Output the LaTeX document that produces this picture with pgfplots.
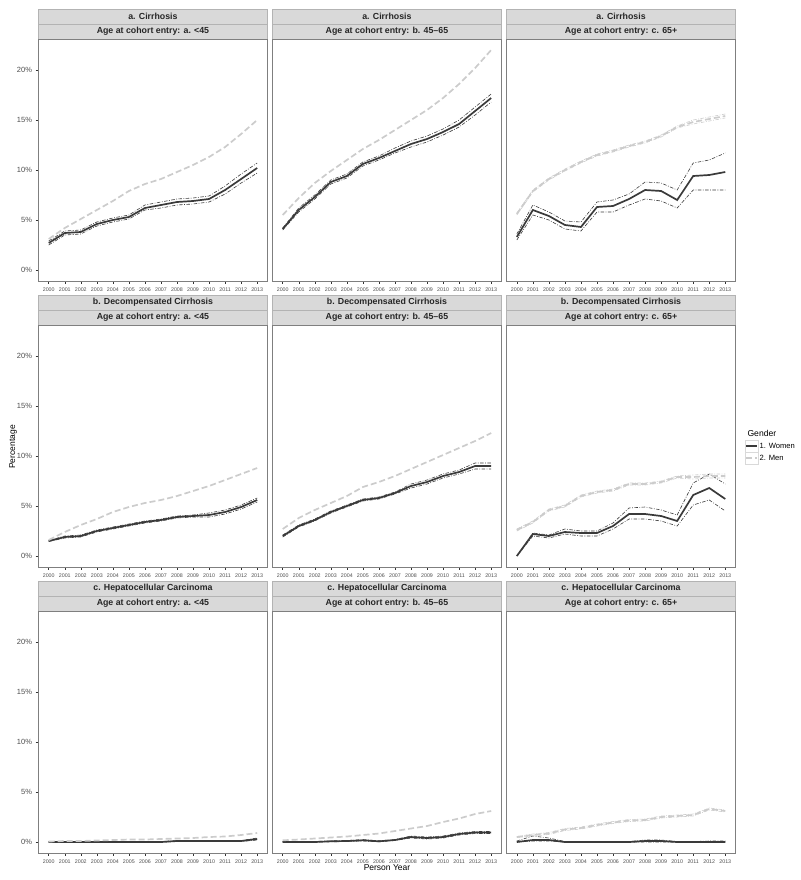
\documentclass[border=0pt]{standalone}
\usepackage{pgfplots}
\pgfplotsset{compat=1.18}
\usepackage{pgfplotstable}
\usepackage{fontspec}
\setmainfont{Liberation Sans}

\definecolor{ggborder}{HTML}{7F7F7F}
\definecolor{ggstrip}{HTML}{D9D9D9}
\definecolor{ggstripline}{HTML}{B3B3B3}
\definecolor{ggtick}{HTML}{333333}
\definecolor{ggtext}{HTML}{4D4D4D}
\definecolor{women}{HTML}{3A3A3A}
\definecolor{men}{HTML}{CCCCCC}

% year, women (est, lower, upper), men (est, lower, upper)
\pgfplotstableread{
year w wlo whi m mlo mhi
2000 2.7 2.5 2.9 3.1 3.1 3.1
2001 3.7 3.5 3.9 4.2 4.2 4.2
2002 3.8 3.6 4.0 5.1 5.1 5.1
2003 4.6 4.4 4.8 6.0 6.0 6.0
2004 5.0 4.8 5.2 6.9 6.9 6.9
2005 5.3 5.1 5.5 7.9 7.9 7.9
2006 6.2 6.0 6.5 8.6 8.6 8.6
2007 6.5 6.2 6.8 9.1 9.1 9.1
2008 6.8 6.5 7.1 9.8 9.8 9.8
2009 6.9 6.6 7.2 10.5 10.5 10.5
2010 7.1 6.8 7.4 11.3 11.3 11.3
2011 8.0 7.6 8.4 12.3 12.3 12.3
2012 9.1 8.7 9.6 13.6 13.6 13.6
2013 10.2 9.7 10.7 15.0 15.0 15.0
}\cirA
\pgfplotstableread{
year w wlo whi m mlo mhi
2000 4.1 4.0 4.2 5.5 5.5 5.5
2001 6.0 5.8 6.2 7.2 7.2 7.2
2002 7.3 7.1 7.5 8.7 8.7 8.7
2003 8.8 8.6 9.0 9.9 9.9 9.9
2004 9.4 9.2 9.6 11.0 11.0 11.0
2005 10.6 10.4 10.8 12.1 12.1 12.1
2006 11.2 11.0 11.4 13.0 13.0 13.0
2007 11.9 11.7 12.2 14.0 14.0 14.0
2008 12.6 12.3 12.9 15.0 15.0 15.0
2009 13.1 12.8 13.4 16.0 16.0 16.0
2010 13.8 13.5 14.1 17.2 17.2 17.2
2011 14.6 14.3 15.0 18.6 18.6 18.6
2012 15.9 15.5 16.3 20.2 20.2 20.2
2013 17.2 16.8 17.6 22.0 22.0 22.0
}\cirB
\pgfplotstableread{
year w wlo whi m mlo mhi
2000 3.3 3.0 3.6 5.6 5.5 5.7
2001 6.0 5.5 6.5 7.9 7.8 8.0
2002 5.4 5.0 5.8 9.1 9.0 9.2
2003 4.5 4.1 4.9 10.0 9.9 10.1
2004 4.3 3.9 4.8 10.8 10.7 10.9
2005 6.3 5.8 6.8 11.5 11.4 11.6
2006 6.4 5.8 7.0 11.9 11.8 12.0
2007 7.1 6.5 7.6 12.4 12.3 12.5
2008 8.0 7.1 8.8 12.8 12.7 12.9
2009 7.9 6.9 8.7 13.4 13.3 13.5
2010 7.0 6.2 8.0 14.3 14.2 14.4
2011 9.4 8.0 10.7 14.8 14.6 15.0
2012 9.5 8.0 11.0 15.1 14.9 15.3
2013 9.8 8.0 11.7 15.4 15.2 15.6
}\cirC
\pgfplotstableread{
year w wlo whi m mlo mhi
2000 1.5 1.45 1.55 1.6 1.6 1.6
2001 1.9 1.8 2.0 2.4 2.4 2.4
2002 2.0 1.9 2.1 3.1 3.1 3.1
2003 2.5 2.4 2.6 3.7 3.7 3.7
2004 2.8 2.7 2.9 4.4 4.4 4.4
2005 3.1 3.0 3.2 4.9 4.9 4.9
2006 3.4 3.3 3.5 5.3 5.3 5.3
2007 3.6 3.5 3.7 5.6 5.6 5.6
2008 3.9 3.8 4.0 6.0 6.0 6.0
2009 4.0 3.9 4.1 6.5 6.5 6.5
2010 4.1 3.9 4.3 7.0 7.0 7.0
2011 4.4 4.2 4.6 7.6 7.6 7.6
2012 4.9 4.7 5.1 8.2 8.2 8.2
2013 5.6 5.4 5.8 8.8 8.8 8.8
}\decA
\pgfplotstableread{
year w wlo whi m mlo mhi
2000 2.0 1.9 2.1 2.7 2.7 2.7
2001 3.0 2.9 3.1 3.8 3.8 3.8
2002 3.6 3.5 3.7 4.6 4.6 4.6
2003 4.4 4.3 4.5 5.3 5.3 5.3
2004 5.0 4.9 5.1 6.0 6.0 6.0
2005 5.6 5.5 5.7 6.9 6.9 6.9
2006 5.8 5.7 5.9 7.4 7.4 7.4
2007 6.3 6.2 6.4 8.0 8.0 8.0
2008 7.0 6.8 7.2 8.7 8.7 8.7
2009 7.4 7.2 7.6 9.4 9.4 9.4
2010 8.0 7.8 8.2 10.1 10.1 10.1
2011 8.4 8.2 8.6 10.8 10.8 10.8
2012 9.0 8.7 9.3 11.5 11.5 11.5
2013 9.0 8.7 9.3 12.3 12.3 12.3
}\decB
\pgfplotstableread{
year w wlo whi m mlo mhi
2000 0.0 0.0 0.0 2.6 2.5 2.7
2001 2.2 2.0 2.3 3.4 3.3 3.5
2002 2.0 1.8 2.1 4.6 4.5 4.7
2003 2.4 2.2 2.7 5.0 4.9 5.1
2004 2.3 2.0 2.5 6.0 5.9 6.1
2005 2.3 2.0 2.5 6.4 6.3 6.5
2006 3.0 2.7 3.3 6.6 6.5 6.7
2007 4.2 3.7 4.8 7.2 7.1 7.3
2008 4.2 3.7 4.9 7.2 7.1 7.3
2009 4.0 3.5 4.6 7.4 7.3 7.5
2010 3.5 3.0 4.1 7.9 7.8 8.0
2011 6.1 5.1 7.3 7.9 7.7 8.1
2012 6.8 5.6 8.2 8.0 7.8 8.2
2013 5.7 4.5 7.2 8.0 7.8 8.2
}\decC
\pgfplotstableread{
year w wlo whi m mlo mhi
2000 0.0 0.0 0.0 0.05 0.05 0.05
2001 0.0 0.0 0.05 0.1 0.1 0.1
2002 0.0 0.0 0.05 0.1 0.1 0.1
2003 0.0 0.0 0.05 0.15 0.15 0.15
2004 0.0 0.0 0.05 0.2 0.2 0.2
2005 0.0 0.0 0.05 0.25 0.25 0.25
2006 0.0 0.0 0.05 0.25 0.25 0.25
2007 0.0 0.0 0.05 0.3 0.3 0.3
2008 0.1 0.05 0.15 0.35 0.35 0.35
2009 0.1 0.05 0.15 0.4 0.4 0.4
2010 0.1 0.05 0.15 0.5 0.5 0.5
2011 0.1 0.05 0.15 0.55 0.55 0.55
2012 0.1 0.05 0.15 0.7 0.7 0.7
2013 0.3 0.2 0.4 0.9 0.9 0.9
}\hccA
\pgfplotstableread{
year w wlo whi m mlo mhi
2000 0.0 0.0 0.05 0.17 0.17 0.17
2001 0.0 0.0 0.05 0.25 0.25 0.25
2002 0.0 0.0 0.05 0.35 0.35 0.35
2003 0.07 0.02 0.12 0.45 0.45 0.45
2004 0.1 0.05 0.15 0.55 0.55 0.55
2005 0.17 0.1 0.25 0.7 0.7 0.7
2006 0.07 0.02 0.12 0.85 0.85 0.85
2007 0.2 0.15 0.25 1.1 1.1 1.1
2008 0.5 0.4 0.6 1.35 1.35 1.35
2009 0.4 0.3 0.5 1.6 1.6 1.6
2010 0.5 0.4 0.6 2.0 2.0 2.0
2011 0.8 0.7 0.9 2.35 2.35 2.35
2012 0.95 0.85 1.05 2.8 2.8 2.8
2013 0.95 0.85 1.05 3.1 3.1 3.1
}\hccB
\pgfplotstableread{
year w wlo whi m mlo mhi
2000 0.0 0.0 0.1 0.5 0.45 0.55
2001 0.2 0.1 0.6 0.7 0.6 0.8
2002 0.2 0.1 0.4 0.85 0.75 0.95
2003 0.0 0.0 0.05 1.25 1.15 1.35
2004 0.0 0.0 0.05 1.4 1.3 1.5
2005 0.0 0.0 0.05 1.7 1.6 1.8
2006 0.0 0.0 0.05 1.95 1.85 2.05
2007 0.0 0.0 0.05 2.15 2.05 2.25
2008 0.1 0.0 0.2 2.2 2.1 2.3
2009 0.1 0.0 0.2 2.5 2.4 2.6
2010 0.0 0.0 0.05 2.6 2.5 2.7
2011 0.0 0.0 0.05 2.7 2.6 2.8
2012 0.0 0.0 0.1 3.3 3.2 3.4
2013 0.0 0.0 0.1 3.1 3.0 3.2
}\hccC

\pgfplotsset{
  panel/.style={
    width=229.3pt, height=242pt, scale only axis, anchor=north west,
    xmin=1999.35, xmax=2013.65, ymin=-1.1, ymax=23.1,
    xtick={2000,...,2013}, ytick={0,5,10,15,20},
    axis line style={ggborder, line width=0.6pt},
    tick align=outside, major tick length=2.8pt,
    tick style={ggtick, line width=0.5pt},
    xtick pos=lower, ytick pos=left,
    /pgf/number format/assume math mode=true,
    x tick label style={font=\fontsize{5.3}{6}\selectfont, text=ggtext,
      /pgf/number format/1000 sep={}},
    y tick label style={font=\fontsize{7.5}{9}\selectfont, text=ggtext},
    yticklabel={\pgfmathprintnumber{\tick}\%},
    scaled ticks=false,
  },
  noy/.style={ytick=\empty},
  wline/.style={women, line width=1.7pt, solid},
  wci/.style={women, line width=0.6pt, dash pattern=on 3.5pt off 1.5pt on 0.8pt off 1.5pt, forget plot},
  mline/.style={men, line width=1.7pt, dash pattern=on 6pt off 3pt},
  mci/.style={men, line width=0.6pt, dash pattern=on 3.5pt off 1.5pt on 0.8pt off 1.5pt, forget plot},
  legend image code/.code={
    \draw[draw=ggstrip, fill=white, solid, line width=0.5pt] (0pt,-5.8pt) rectangle (12.5pt,5.8pt);
    \draw[#1] (0.6pt,0pt) -- (11.9pt,0pt);
  },
}

\newcommand{\panel}[5]{%
  \begin{axis}[panel, at={(#2pt,-#3pt)}, #4]
    \addplot[wci] table[x=year, y=wlo] {#1};
    \addplot[wci] table[x=year, y=whi] {#1};
    #5
    \addplot[wline] table[x=year, y=w] {#1};
    \addplot[mline] table[x=year, y=m] {#1};
  \end{axis}}
\newcommand{\menci}[1]{%
  \addplot[mci] table[x=year, y=mlo] {#1};
  \addplot[mci] table[x=year, y=mhi] {#1};}

\newcommand{\strip}[4]{%
  \coordinate (s) at (#1pt,-#2pt);
  \fill[ggstrip] (s) rectangle ++(229.3pt,-30pt);
  \draw[ggstripline, line width=0.5pt] (s) rectangle ++(229.3pt,-30pt);
  \draw[ggstripline, line width=0.5pt] ([yshift=-15pt]s) -- ++(229.3pt,0);
  \node[font=\bfseries\fontsize{8.8}{10}\selectfont, text=black!85] at ([xshift=114.65pt,yshift=-7.5pt]s) {#3};
  \node[font=\bfseries\fontsize{8.8}{10}\selectfont, text=black!85] at ([xshift=114.65pt,yshift=-22.5pt]s) {#4};}

\begin{document}
\begin{tikzpicture}
\path[use as bounding box] (0pt,0pt) rectangle (800pt,-880pt);

\strip{38.3}{9}{a. Cirrhosis}{Age at cohort entry: a. <45}
\strip{272.3}{9}{a. Cirrhosis}{Age at cohort entry: b. 45--65}
\strip{506.4}{9}{a. Cirrhosis}{Age at cohort entry: c. 65+}
\strip{38.3}{295}{b. Decompensated Cirrhosis}{Age at cohort entry: a. <45}
\strip{272.3}{295}{b. Decompensated Cirrhosis}{Age at cohort entry: b. 45--65}
\strip{506.4}{295}{b. Decompensated Cirrhosis}{Age at cohort entry: c. 65+}
\strip{38.3}{581}{c. Hepatocellular Carcinoma}{Age at cohort entry: a. <45}
\strip{272.3}{581}{c. Hepatocellular Carcinoma}{Age at cohort entry: b. 45--65}
\strip{506.4}{581}{c. Hepatocellular Carcinoma}{Age at cohort entry: c. 65+}

\panel{\cirA}{38.3}{39}{}{}
\panel{\cirB}{272.3}{39}{noy}{}
\panel{\cirC}{506.4}{39}{noy}{\menci{\cirC}}
\panel{\decA}{38.3}{325}{}{}
\panel{\decB}{272.3}{325}{noy}{}
\panel{\decC}{506.4}{325}{noy,
  legend entries={1. Women, 2. Men},
  legend cell align=left,
  legend style={at={(1.0406,0.525)}, anchor=north west, draw=none, fill=none,
    inner sep=0pt, row sep=0pt, column sep=1.5pt,
    font=\fontsize{7.6}{9}\selectfont, nodes={inner sep=0pt, minimum height=11.6pt}}}{\menci{\decC}}
\panel{\hccA}{38.3}{611}{}{}
\panel{\hccB}{272.3}{611}{noy}{}
\panel{\hccC}{506.4}{611}{noy}{\menci{\hccC}}

\node[anchor=west, font=\fontsize{8.6}{10}\selectfont] at (744pt,-433pt) {Gender};
\node[rotate=90, font=\fontsize{8.5}{10}\selectfont] at (13pt,-447pt) {Percentage};
\node[font=\fontsize{8.5}{10}\selectfont] at (387pt,-868pt) {Person Year};
\end{tikzpicture}
\end{document}
